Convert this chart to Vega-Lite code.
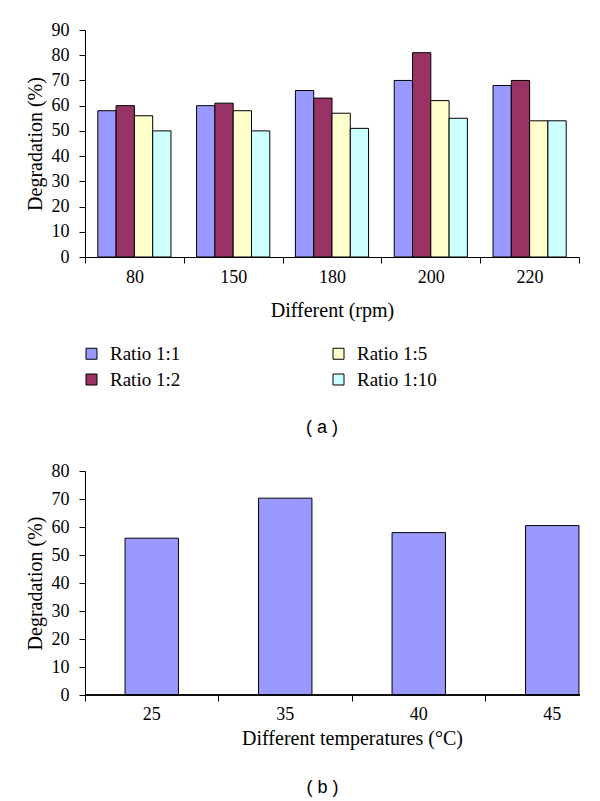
{
  "$schema": "https://vega.github.io/schema/vega-lite/v6.json",
  "padding": {"left": 25, "top": 21, "right": 5, "bottom": 5},
  "spacing": 25,
  "resolve": {"scale": {"color": "independent"}, "legend": {"color": "independent"}},
  "config": {
    "font": "Liberation Serif",
    "view": {"stroke": null},
    "axis": {
      "labelFont": "Liberation Serif", "titleFont": "Liberation Serif",
      "labelFontSize": 18, "titleFontSize": 20, "titleFontWeight": "normal",
      "labelColor": "black", "titleColor": "black",
      "domainColor": "black", "tickColor": "black", "tickSize": 6, "grid": false
    },
    "title": {"font": "Liberation Sans", "fontSize": 18, "fontWeight": "normal", "color": "black"}
  },
  "vconcat": [
    {
      "width": 494, "height": 227,
      "title": {"text": "( a )", "orient": "bottom", "offset": 29, "dx": -10},
      "data": {"values": [
        {"rpm": "80", "ratio": "Ratio 1:1", "deg": 58},
        {"rpm": "80", "ratio": "Ratio 1:2", "deg": 60},
        {"rpm": "80", "ratio": "Ratio 1:5", "deg": 56},
        {"rpm": "80", "ratio": "Ratio 1:10", "deg": 50},
        {"rpm": "150", "ratio": "Ratio 1:1", "deg": 60},
        {"rpm": "150", "ratio": "Ratio 1:2", "deg": 61},
        {"rpm": "150", "ratio": "Ratio 1:5", "deg": 58},
        {"rpm": "150", "ratio": "Ratio 1:10", "deg": 50},
        {"rpm": "180", "ratio": "Ratio 1:1", "deg": 66},
        {"rpm": "180", "ratio": "Ratio 1:2", "deg": 63},
        {"rpm": "180", "ratio": "Ratio 1:5", "deg": 57},
        {"rpm": "180", "ratio": "Ratio 1:10", "deg": 51},
        {"rpm": "200", "ratio": "Ratio 1:1", "deg": 70},
        {"rpm": "200", "ratio": "Ratio 1:2", "deg": 81},
        {"rpm": "200", "ratio": "Ratio 1:5", "deg": 62},
        {"rpm": "200", "ratio": "Ratio 1:10", "deg": 55},
        {"rpm": "220", "ratio": "Ratio 1:1", "deg": 68},
        {"rpm": "220", "ratio": "Ratio 1:2", "deg": 70},
        {"rpm": "220", "ratio": "Ratio 1:5", "deg": 54},
        {"rpm": "220", "ratio": "Ratio 1:10", "deg": 54}
      ]},
      "mark": {"type": "bar", "stroke": "black", "strokeWidth": 1},
      "encoding": {
        "x": {
          "field": "rpm", "type": "nominal", "sort": ["80", "150", "180", "200", "220"],
          "scale": {"paddingInner": 0, "paddingOuter": 0},
          "axis": {"title": "Different (rpm)", "labelAngle": 0, "tickBand": "extent", "labelPadding": 5, "titlePadding": 14}
        },
        "xOffset": {
          "field": "ratio", "type": "nominal", "sort": ["Ratio 1:1", "Ratio 1:2", "Ratio 1:5", "Ratio 1:10"],
          "scale": {"paddingInner": 0, "paddingOuter": 0.7}
        },
        "y": {
          "field": "deg", "type": "quantitative",
          "scale": {"domain": [0, 90]},
          "axis": {"title": "Degradation (%)", "values": [0, 10, 20, 30, 40, 50, 60, 70, 80, 90], "labelPadding": 10, "titlePadding": 6}
        },
        "color": {
          "field": "ratio", "type": "nominal",
          "scale": {"domain": ["Ratio 1:1", "Ratio 1:5", "Ratio 1:2", "Ratio 1:10"], "range": ["#9999FF", "#FFFFCC", "#993366", "#CCFFFF"]},
          "legend": {
            "title": null, "orient": "none", "legendX": -3, "legendY": 314, "direction": "horizontal", "columns": 2,
            "symbolType": "square", "symbolSize": 121, "symbolStrokeColor": "black", "symbolStrokeWidth": 1, "symbolOpacity": 1,
            "labelFont": "Liberation Serif", "labelFontSize": 19, "labelColor": "black", "labelOffset": 9,
            "columnPadding": 148, "rowPadding": 6
          }
        }
      }
    },
    {
      "width": 495, "height": 224,
      "title": {"text": "( b )", "orient": "bottom", "offset": 31, "dx": -10},
      "data": {"values": [
        {"temp": "25", "deg": 56},
        {"temp": "35", "deg": 70.3},
        {"temp": "40", "deg": 58},
        {"temp": "45", "deg": 60.5}
      ]},
      "encoding": {
        "y": {
          "field": "deg", "type": "quantitative",
          "scale": {"domain": [0, 80]},
          "axis": {"title": "Degradation (%)", "values": [0, 10, 20, 30, 40, 50, 60, 70, 80], "labelPadding": 10, "titlePadding": 6}
        }
      },
      "layer": [
        {
          "mark": {"type": "bar", "stroke": "black", "strokeWidth": 1, "fill": "#9999FF", "width": {"band": 0.4}},
          "encoding": {
            "x": {
              "field": "temp", "type": "nominal", "sort": ["25", "35", "40", "45"],
              "scale": {"paddingInner": 0, "paddingOuter": 0, "rangeMax": 534},
              "axis": {"title": "Different temperatures (°C)", "labelAngle": 0, "domain": false, "bandPosition": 0, "tickExtra": false, "labelPadding": 4, "titlePadding": 5}
            }
          }
        },
        {
          "mark": {"type": "rule", "color": "black", "strokeWidth": 1},
          "encoding": {"y": {"datum": 0}}
        }
      ]
    }
  ]
}
